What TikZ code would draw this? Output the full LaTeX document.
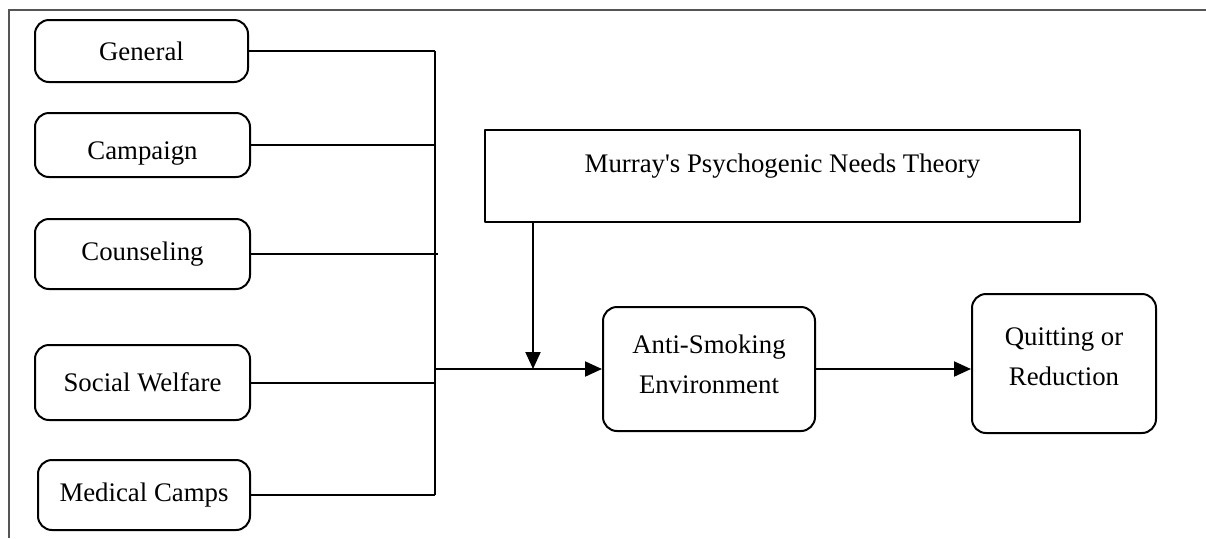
\documentclass[tikz,border=0pt]{standalone}
\usepackage{fontspec}
\setmainfont{Liberation Serif}
\usetikzlibrary{arrows.meta}

\definecolor{frame}{HTML}{555555}

\begin{document}
\begin{tikzpicture}[
  x=0.5pt, y=-0.5pt,
  line join=round,
  wire/.style={line width=1pt},
  arr/.style={wire, -{Triangle[length=8.5pt,width=7.5pt]}},
  box/.style={draw, line width=1pt, rounded corners=7pt, inner sep=0pt,
    align=center, font=\fontsize{13.4}{20}\selectfont},
  theory/.style={draw, line width=1pt, inner sep=0pt,
    font=\fontsize{13.4}{20}\selectfont, text height=9pt, text depth=13pt},
]
\useasboundingbox (0,0) rectangle (1206,538);

% ── the page frame, top and left only ─────────────────────────────────────
\draw[frame, line width=1.2pt] (8,10) -- (1206,10);
\draw[frame, line width=1.2pt] (9,10) -- (9,538);

% ── the five programmes on the left ───────────────────────────────────────
\node[box, minimum width=106.5pt, minimum height=31pt] (gen) at (141.5,51) {General};
\node[box, minimum width=107.5pt, minimum height=32pt, text height=14pt, text depth=0pt] (cmp) at (142.5,145) {Campaign};
\node[box, minimum width=107.5pt, minimum height=35pt] (cns) at (142.5,254) {Counseling};
\node[box, minimum width=107.5pt, minimum height=37.5pt] (swf) at (142.5,382.5) {Social Welfare};
\node[box, minimum width=106pt, minimum height=35pt] (med) at (144,495) {Medical Camps};

% the bus they all feed into
\coordinate (bus) at (435,0);
\coordinate (drop) at (533,0);
\foreach \n in {gen,cmp,swf,med} { \draw[wire] (\n.east) -- (\n.east -| bus); }
\draw[wire] (cns.east) -- ([xshift=1.5pt]cns.east -| bus);
\draw[wire] (gen.east -| bus) -- (med.east -| bus);

% ── theory, environment and outcome ───────────────────────────────────────
\node[theory, minimum width=297.5pt, minimum height=46pt] (mur) at (782.5,176) {Murray\textquotesingle s Psychogenic Needs Theory};
\node[box, minimum width=106pt, minimum height=62pt, text depth=4.5pt] (env) at (709,369) {Anti-Smoking\\Environment};
\node[box, minimum width=92pt, minimum height=69.5pt, text depth=7pt] (out) at (1064,363.5) {Quitting or\\Reduction};

\draw[arr] (env.west -| bus) -- (env.west);
\draw[arr] (mur.south -| drop) -- (env.west -| drop);
\draw[arr] (env.east) -- (env.east -| out.west);

\end{tikzpicture}
\end{document}
